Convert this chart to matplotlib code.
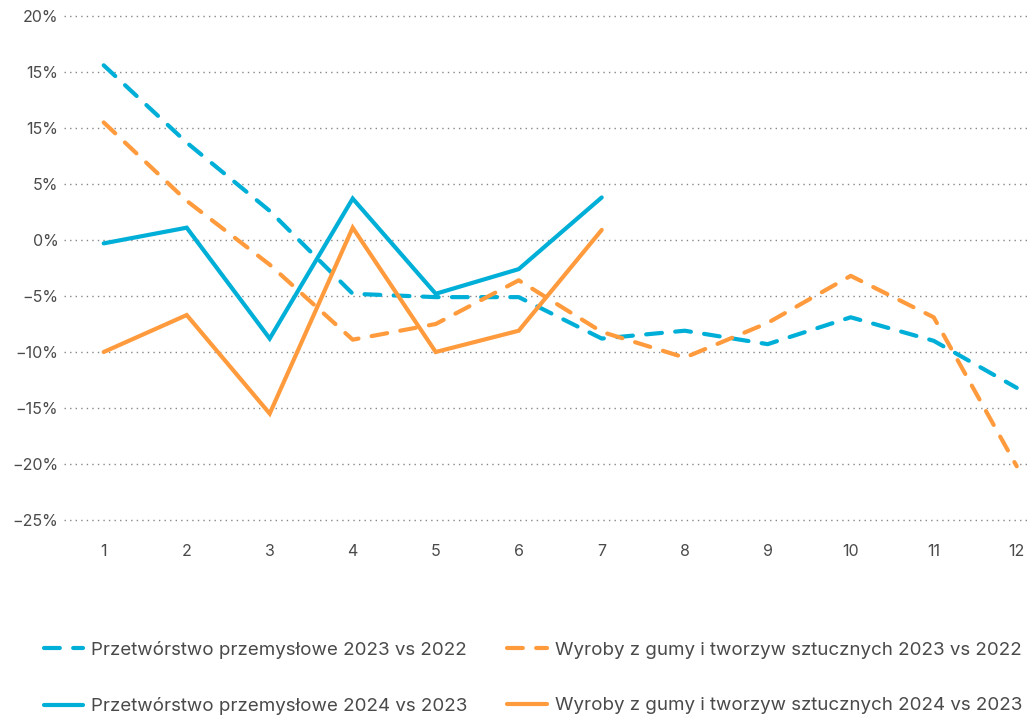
import matplotlib
matplotlib.use("Agg")
import matplotlib.pyplot as plt

plt.rcParams['font.family'] = ['Inter', 'DejaVu Sans']

# months
months = [1, 2, 3, 4, 5, 6, 7, 8, 9, 10, 11, 12]
months_2024 = [1, 2, 3, 4, 5, 6, 7]

# y/y change in %
przetworstwo_2023 = [15.6, 8.7, 2.6, -4.8, -5.1, -5.1, -8.8, -8.1, -9.3, -6.9, -9.0, -13.2]
gumy_2023 = [10.5, 3.5, -2.2, -8.9, -7.5, -3.6, -8.2, -10.5, -7.4, -3.2, -6.9, -20.2]
przetworstwo_2024 = [-0.3, 1.1, -8.8, 3.7, -4.8, -2.6, 3.8]
gumy_2024 = [-10.0, -6.7, -15.5, 1.1, -10.0, -8.1, 0.9]

y_ticks = [20, 15, 10, 5, 0, -5, -10, -15, -20, -25]
y_labels = ["20%", "15%", "15%", "5%", "0%", "\u22125%", "\u221210%", "\u221215%", "\u221220%", "\u221225%"]

labels = ["Przetwórstwo przemysłowe 2023 vs 2022",
          "Przetwórstwo przemysłowe 2024 vs 2023",
          "Wyroby z gumy i tworzyw sztucznych 2023 vs 2022",
          "Wyroby z gumy i tworzyw sztucznych 2024 vs 2023"]

blue = "#00AFD7"
orange = "#FF9B3D"
text_col = "#4a4a4a"

fig = plt.figure(figsize=(10.30, 7.19), dpi=100)
ax = fig.add_axes([0.062, 0.269, 0.938, 0.7165])

lw = 3.0
dash = (3.8, 3.2)

l1, = ax.plot(months, przetworstwo_2023, color=blue, lw=lw, dashes=dash,
              dash_capstyle='round', zorder=3)
l3, = ax.plot(months, gumy_2023, color=orange, lw=lw, dashes=dash,
              dash_capstyle='round', zorder=3)
l2, = ax.plot(months_2024, przetworstwo_2024, color=blue, lw=lw,
              solid_capstyle='round', solid_joinstyle='miter', zorder=4)
l4, = ax.plot(months_2024, gumy_2024, color=orange, lw=lw,
              solid_capstyle='round', solid_joinstyle='miter', zorder=4)

ax.set_xlim(0.52, 12.16)
ax.set_ylim(-25.5, 20.5)
ax.set_xticks(months)
ax.set_yticks(y_ticks)
ax.set_yticklabels(y_labels)
ax.tick_params(axis='both', length=0, labelsize=11.5, colors=text_col)
ax.tick_params(axis='y', pad=4)
ax.tick_params(axis='x', pad=13)
for s in ax.spines.values():
    s.set_visible(False)
ax.grid(axis='y', color='#888888', linestyle=(0, (1, 3)), linewidth=1.0)
ax.set_axisbelow(True)

leg = fig.legend([l1, l2, l3, l4], labels, ncol=2, loc='lower left',
                 bbox_to_anchor=(0.026, -0.018), frameon=False,
                 fontsize=13.5, handlelength=2.1, handletextpad=0.45,
                 columnspacing=2.1, labelspacing=2.05, labelcolor=text_col)

fig.savefig("out.png", dpi=100)
